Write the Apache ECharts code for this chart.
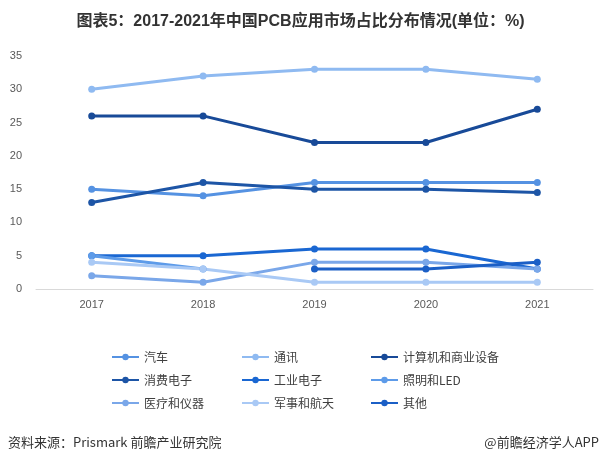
<!DOCTYPE html>
<html><head><meta charset="utf-8">
<script src="https://cdn.jsdelivr.net/npm/echarts@6/dist/echarts.min.js"></script>
<style>html,body{margin:0;padding:0;background:#fff}#c{width:601px;height:463px}</style>
</head><body><div id="c"></div>
<script>
var years = ['2017','2018','2019','2020','2021'];
var seriesNames = ['汽车','通讯','计算机和商业设备','消费电子','工业电子','照明和LED','医疗和仪器','军事和航天','其他'];
var auto      = [15, 14, 16, 16, 16];
var telecom   = [30, 32, 33, 33, 31.5];
var computer  = [26, 26, 22, 22, 27];
var consumer  = [13, 16, 15, 15, 14.5];
var industry  = [5, 5, 6, 6, 3];
var lighting  = [5, 3, null, null, null];
var medical   = [2, 1, 4, 4, 3];
var military  = [4, 3, 1, 1, 1];
var others    = [null, null, 3, 3, 4];
var yTicks = [0, 5, 10, 15, 20, 25, 30, 35];

var dataList = [auto, telecom, computer, consumer, industry, lighting, medical, military, others];
var colors = ['#5592e2','#8fbaf1','#184a98','#1d55a6','#1a67d2','#5d9be9','#7aa7e9','#a9c9f5','#1b5fc6'];

var chart = echarts.init(document.getElementById('c'));
var series = seriesNames.map(function(n, i){
  return {
    name: n, type: 'line', data: dataList[i],
    symbol: 'circle', symbolSize: 7,
    lineStyle: {width: 3, color: colors[i]},
    itemStyle: {color: colors[i]},
    connectNulls: false
  };
});
function leg(names, left){
  return {
    data: names, orient: 'vertical', left: left, top: 351, padding: 0,
    itemWidth: 27, itemHeight: 8, itemGap: 11,
    textStyle: {fontSize: 12, color: '#404040', fontFamily: '"Noto Sans CJK SC", sans-serif'}
  };
}
chart.setOption({
  animation: false,
  title: {
    text: '图表5：2017-2021年中国PCB应用市场占比分布情况(单位：%)',
    left: 'center', top: 9,
    textStyle: {fontSize: 16, fontWeight: 'bold', color: '#333', fontFamily: 'Arial, "Liberation Sans", "Noto Sans CJK SC", sans-serif'}
  },
  legend: [
    leg([seriesNames[0], seriesNames[3], seriesNames[6]], 111),
    leg([seriesNames[1], seriesNames[4], seriesNames[7]], 241),
    leg([seriesNames[2], seriesNames[5], seriesNames[8]], 370)
  ],
  grid: {left: 36, right: 8, top: 56, bottom: 174},
  xAxis: {
    type: 'category', data: years, boundaryGap: true,
    axisLine: {lineStyle: {color: '#d9d9d9'}},
    axisTick: {show: false},
    axisLabel: {color: '#595959', fontSize: 11, margin: 10}
  },
  yAxis: {
    type: 'value', min: 0, max: 35, interval: 5,
    axisLine: {show: false}, axisTick: {show: false},
    splitLine: {show: false},
    axisLabel: {color: '#595959', fontSize: 11, margin: 14,
      formatter: function(v){ return yTicks.indexOf(v) >= 0 ? String(v) : ''; }}
  },
  graphic: [
    {type: 'text', left: 8, top: 436, style: {text: '资料来源：Prismark 前瞻产业研究院', fontSize: 13, fill: '#333', fontFamily: '"Noto Sans CJK SC", sans-serif'}},
    {type: 'text', right: 2, top: 436, style: {text: '@前瞻经济学人APP', fontSize: 13, fill: '#333', fontFamily: '"Noto Sans CJK SC", sans-serif'}}
  ],
  series: series
});
</script></body></html>
